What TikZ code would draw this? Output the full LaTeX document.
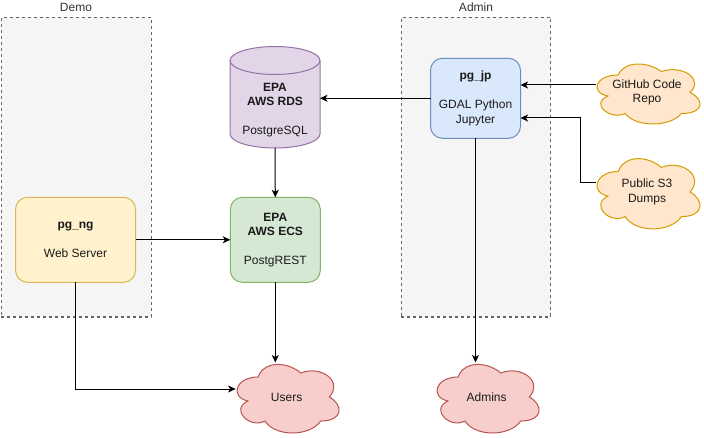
\documentclass[tikz,border=0pt]{standalone}
\usepackage{fontspec}
\setmainfont{Liberation Sans}
\usetikzlibrary{arrows.meta}
\definecolor{contfill}{HTML}{F5F5F5}
\definecolor{contline}{HTML}{666666}
\definecolor{conttext}{HTML}{333333}
\definecolor{ngfill}{HTML}{FFF2CC}
\definecolor{ngline}{HTML}{D6B656}
\definecolor{ecsfill}{HTML}{D5E8D4}
\definecolor{ecsline}{HTML}{82B366}
\definecolor{rdsfill}{HTML}{E1D5E7}
\definecolor{rdsline}{HTML}{9673A6}
\definecolor{jpfill}{HTML}{DAE8FC}
\definecolor{jpline}{HTML}{6C8EBF}
\definecolor{orfill}{HTML}{FFE6CC}
\definecolor{orline}{HTML}{D79B00}
\definecolor{redfill}{HTML}{F8CECC}
\definecolor{redline}{HTML}{B85450}
\definecolor{txt}{HTML}{1A1A1A}
\newcommand\drawiocloud[5]{%
  \begin{scope}[shift={(#1,#2)}, x=#3pt, y=-#4pt]
    \filldraw[#5] (0.25,0.25) .. controls (0.05,0.25) and (0,0.5) .. (0.16,0.55)
      .. controls (0,0.66) and (0.18,0.9) .. (0.31,0.8)
      .. controls (0.4,1) and (0.7,1) .. (0.8,0.8)
      .. controls (1,0.8) and (1,0.6) .. (0.875,0.5)
      .. controls (1,0.3) and (0.8,0.1) .. (0.625,0.2)
      .. controls (0.5,0.05) and (0.3,0.05) .. (0.25,0.25) -- cycle;
  \end{scope}}
\tikzset{
  base/.style={font=\fontsize{12pt}{14.4pt}\selectfont, text=txt, align=center, inner sep=0pt, outer sep=0pt},
  container/.style={draw=contline, fill=contfill, line width=1pt, dash pattern=on 3pt off 3pt, inner sep=0pt, outer sep=0pt},
  contlabel/.style={base, text=conttext},
  box/.style={base, rounded corners=12pt, line width=1pt},
  cloudlabel/.style={base},
  arr/.style={draw=black, line width=1pt, -{Stealth[length=7.5pt,width=7pt,inset=2pt]}},
}
\begin{document}
\begin{tikzpicture}[x=1pt, y=-1pt]
\useasboundingbox (0,0) rectangle (704,438);
% containers
\node[container, minimum width=150pt, minimum height=299.5pt] (demo) at (76,167.25) {};
\node[contlabel] (demolabel) at (76,7.5) {Demo};
\node[container, minimum width=149.5pt, minimum height=299.5pt] (admin) at (475.75,167.25) {};
\node[contlabel] (adminlabel) at (476,7.5) {Admin};
% cylinder RDS
\filldraw[fill=rdsfill, draw=rdsline, line width=1pt]
  (230,60.5) -- (230,134)
  .. controls (230,141.73) and (250.15,148) .. (275,148)
  .. controls (299.85,148) and (320,141.73) .. (320,134)
  -- (320,60.5)
  .. controls (320,52.77) and (299.85,46.5) .. (275,46.5)
  .. controls (250.15,46.5) and (230,52.77) .. (230,60.5) -- cycle;
\draw[draw=rdsline, line width=1pt]
  (230,60.5) .. controls (230,68.23) and (250.15,74.5) .. (275,74.5)
  .. controls (299.85,74.5) and (320,68.23) .. (320,60.5);
\node[base, minimum width=90pt, minimum height=76pt] (rds) at (275,110)
  {\textbf{EPA}\\\textbf{AWS RDS}\\[14.4pt]PostgreSQL};
% boxes
\node[box, draw=ngline, fill=ngfill, minimum width=120pt, minimum height=85pt] (ng) at (75.5,239.8)
  {\textbf{pg\_ng}\\[14.4pt]Web Server};
\node[box, draw=ecsline, fill=ecsfill, minimum width=90pt, minimum height=85pt] (ecs) at (275.3,239.8)
  {\textbf{EPA}\\\textbf{AWS ECS}\\[14.4pt]PostgREST};
\node[box, draw=jpline, fill=jpfill, minimum width=90pt, minimum height=80pt] (jp) at (475.5,98.3)
  {\textbf{pg\_jp}\\[14.4pt]GDAL Python\\Jupyter};
% clouds
\drawiocloud{589.5}{57.5}{115}{70}{fill=orfill, draw=orline, line width=1pt}
\node[cloudlabel, minimum width=103pt, minimum height=60pt] (github) at (647,92.5) {GitHub Code\\Repo};
\drawiocloud{589.5}{151}{115}{82}{fill=orfill, draw=orline, line width=1pt}
\node[cloudlabel, minimum width=103pt, minimum height=70.5pt] (s3) at (647,192) {Public S3\\Dumps};
\drawiocloud{229.6}{357}{114}{80}{fill=redfill, draw=redline, line width=1pt}
\node[cloudlabel, minimum width=102pt, minimum height=69pt] (users) at (286.6,397) {Users};
\drawiocloud{429.6}{357}{114}{80}{fill=redfill, draw=redline, line width=1pt}
\node[cloudlabel, minimum width=102pt, minimum height=69pt] (admins) at (486.6,397) {Admins};
% helper coordinates
\coordinate (ghout) at ([yshift=7.5pt]github.west);
\coordinate (s3out) at ([yshift=9pt]s3.west);
\coordinate (jpin) at ([yshift=-19.7pt]jp.east);
\coordinate (usin) at ([yshift=8pt]users.west);
% connectors
\draw[arr] (jp.west) -- (jp.west -| rds.east);
\draw[arr] (ghout) -- (ghout -| jp.east);
\draw[arr] (s3out) -- ++(-15,0) |- (jpin);
\draw[arr] (rds.south) -- (ecs.north);
\draw[arr] (ng.east) -- (ecs.west);
\draw[arr] (ecs.south) -- (ecs.south |- users.north);
\draw[arr] (ng.south) |- (usin);
\draw[arr] (jp.south) -- (jp.south |- admins.north);
\end{tikzpicture}
\end{document}
